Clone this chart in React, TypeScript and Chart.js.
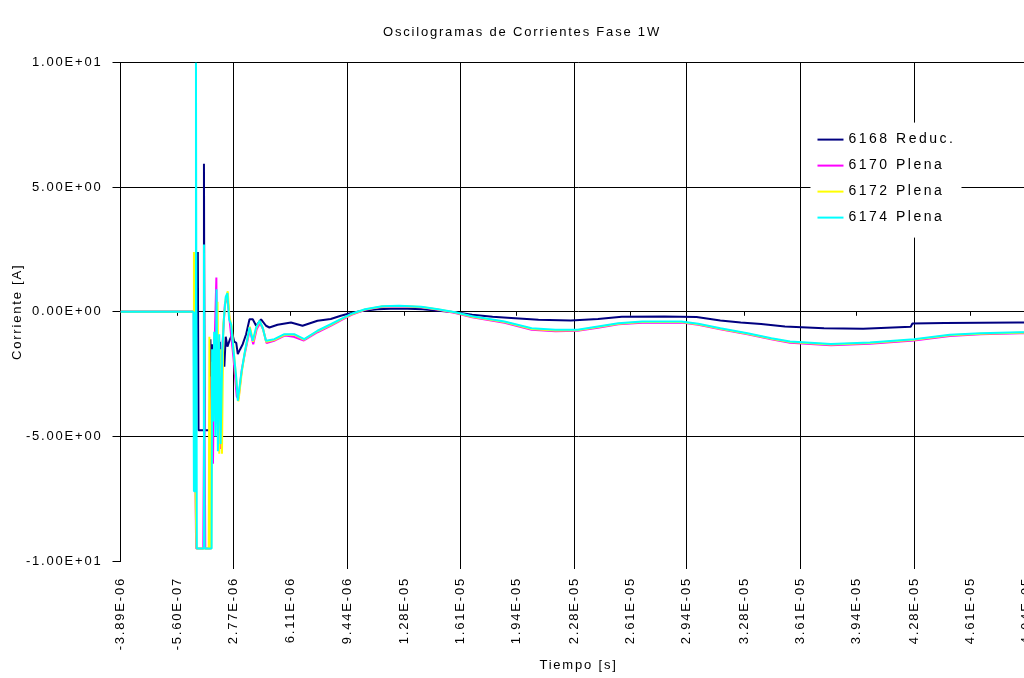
import React, { useEffect, useRef } from 'react';
import { Chart, registerables } from 'chart.js';

Chart.register(...registerables);

const TITLE = 'Oscilogramas de Corrientes Fase 1W';
const X_TITLE = 'Tiempo [s]';
const Y_TITLE = 'Corriente [A]';

const X_TICK_LABELS = [
  '-3.89E-06', '-5.60E-07', '2.77E-06', '6.11E-06', '9.44E-06', '1.28E-05',
  '1.61E-05', '1.94E-05', '2.28E-05', '2.61E-05', '2.94E-05', '3.28E-05',
  '3.61E-05', '3.94E-05', '4.28E-05', '4.61E-05', '4.94E-05',
];
const X_MAX_S = 5.0e-5;
const Y_TICK_LABELS = ['-1.00E+01', '-5.00E+00', '0.00E+00', '5.00E+00', '1.00E+01'];

const SERIES_NAMES = ['6168 Reduc.', '6170 Plena', '6172 Plena', '6174 Plena'];
const SERIES_COLORS = ['#000080', '#FF00FF', '#FFFF00', '#00FFFF'];

// [time in microseconds, current in A]
const S6168: [number, number][] = [
  [-3.89, 0], [0.62, 0], [0.66, 2.4], [0.70, -4.75], [0.98, -4.75], [1.02, 5.94], [1.06, -4.75],
  [1.36, -4.75], [1.40, -1.1], [1.46, -2.9], [1.52, -1.3], [1.60, -2.3], [1.66, -1.8], [1.72, -3.0],
  [1.80, -1.6], [1.88, -2.4], [1.96, -1.2], [2.05, -2.8], [2.14, -1.6], [2.22, -2.2], [2.30, -1.0],
  [2.40, -1.4], [2.55, -1.1], [2.70, -0.9], [2.80, -1.2], [2.92, -1.25], [3.01, -1.7], [3.15, -1.5],
  [3.30, -1.3], [3.50, -0.9], [3.70, -0.3], [3.89, -0.3], [4.09, -0.56], [4.38, -0.3], [4.67, -0.56],
  [4.87, -0.63], [5.35, -0.52], [6.14, -0.43], [6.82, -0.56], [7.70, -0.36], [8.48, -0.29],
  [9.07, -0.16], [9.56, -0.07], [10.2, 0.02], [11.2, 0.1], [12.0, 0.12], [13.0, 0.12], [13.9, 0.1],
  [14.8, 0.04], [15.8, -0.02], [16.8, -0.12], [18.0, -0.2], [19.1, -0.25], [20.7, -0.32],
  [22.6, -0.35], [24.2, -0.29], [25.6, -0.2], [28.1, -0.19], [30.0, -0.21], [31.4, -0.35],
  [32.6, -0.43], [33.8, -0.49], [35.2, -0.59], [37.5, -0.66], [39.8, -0.68], [42.6, -0.6],
  [42.7, -0.47], [44.6, -0.45], [48.9, -0.43], [50.0, -0.43],
];

const S6170: [number, number][] = [
  [-3.89, 0], [0.42, 0], [0.46, -7.0], [0.52, -7.0], [0.56, -9.5], [0.98, -9.5], [1.04, -3.0],
  [1.10, -9.5], [1.40, -9.5], [1.46, -2.6], [1.55, -6.1], [1.62, -2.0], [1.75, 1.38], [1.82, -4.5],
  [1.90, -1.0], [2.00, -5.5], [2.12, -1.2], [2.25, 0.3], [2.40, 0.6], [2.55, -0.5], [2.75, -1.8],
  [2.95, -3.4], [3.05, -3.5], [3.25, -2.3], [3.45, -1.6], [3.72, -0.7], [3.92, -1.3], [4.12, -0.7],
  [4.32, -0.45], [4.50, -0.7], [4.70, -1.25], [5.2, -1.15], [5.8, -0.95], [6.3, -1.0], [6.9, -1.15],
  [7.7, -0.82], [8.5, -0.55], [9.1, -0.33], [9.7, -0.12], [10.5, 0.08], [11.5, 0.2], [12.5, 0.22],
  [13.8, 0.18], [14.8, 0.08], [15.8, -0.05], [16.8, -0.22], [18.7, -0.44], [20.3, -0.72],
  [21.7, -0.78], [23.0, -0.76], [24.2, -0.64], [25.4, -0.5], [26.8, -0.44], [29.1, -0.43],
  [30.1, -0.52], [31.4, -0.7], [33.0, -0.9], [34.4, -1.1], [35.5, -1.24], [37.9, -1.34],
  [40.2, -1.28], [42.8, -1.15], [44.9, -0.97], [46.7, -0.9], [49.0, -0.86], [50.0, -0.86],
];

const S6172: [number, number][] = [
  [-3.89, 0], [0.40, 0], [0.43, 2.4], [0.48, 1.2], [0.52, -7.2], [0.58, -9.5], [1.30, -9.5],
  [1.34, -1.0], [1.40, -9.5], [1.45, -9.5], [1.50, -2.0], [1.58, -4.0], [1.66, -1.0], [1.74, -3.5],
  [1.82, 0.4], [1.92, -5.7], [2.00, -1.5], [2.08, -5.7], [2.16, -0.5], [2.30, 0.5], [2.42, 0.82],
  [2.52, -0.2], [2.65, -0.6], [2.80, -1.8], [2.95, -3.0], [3.05, -3.6], [3.25, -2.4], [3.42, -1.65],
  [3.72, -0.6], [3.92, -1.2], [4.1, -0.65], [4.3, -0.38], [4.48, -0.65], [4.68, -1.2], [5.2, -1.12],
  [5.8, -0.92], [6.3, -0.92], [6.9, -1.12], [7.7, -0.78], [8.5, -0.52], [9.1, -0.3], [9.7, -0.1],
  [10.5, 0.09], [11.5, 0.21], [12.5, 0.23], [13.8, 0.19], [14.8, 0.09], [15.8, -0.03], [16.8, -0.2],
  [18.7, -0.41], [20.3, -0.69], [21.7, -0.75], [23.0, -0.74], [24.2, -0.61], [25.4, -0.48],
  [26.8, -0.41], [29.1, -0.41], [30.1, -0.5], [31.4, -0.68], [33.0, -0.88], [34.4, -1.08],
  [35.5, -1.21], [37.9, -1.31], [40.2, -1.25], [42.8, -1.12], [44.9, -0.94], [46.7, -0.88],
  [49.0, -0.84], [50.0, -0.84],
];

const S6174: [number, number][] = [
  [-3.89, 0], [0.40, 0], [0.43, -7.2], [0.50, -7.2], [0.55, 10], [0.60, -9.5], [0.98, -9.5],
  [1.02, 2.7], [1.06, -9.5], [1.47, -9.5], [1.50, -1.5], [1.56, -4.4], [1.62, -0.8], [1.70, -5.0],
  [1.76, 0.9], [1.84, -5.6], [1.92, -0.9], [2.00, -5.3], [2.10, -1.6], [2.20, -0.2], [2.30, 0.6],
  [2.40, 0.75], [2.50, -0.3], [2.62, -0.5], [2.75, -1.5], [2.92, -2.64], [3.01, -3.57], [3.21, -2.5],
  [3.40, -1.7], [3.70, -0.63], [3.89, -1.16], [4.09, -0.63], [4.29, -0.36], [4.47, -0.63],
  [4.67, -1.16], [5.16, -1.1], [5.75, -0.9], [6.33, -0.9], [6.92, -1.1], [7.70, -0.76], [8.48, -0.5],
  [9.07, -0.29], [9.66, -0.09], [10.5, 0.1], [11.5, 0.22], [12.5, 0.24], [13.8, 0.2], [14.8, 0.1],
  [15.8, -0.02], [16.8, -0.18], [18.7, -0.39], [20.3, -0.66], [21.7, -0.72], [23.0, -0.72],
  [24.2, -0.59], [25.4, -0.46], [26.8, -0.39], [29.1, -0.39], [30.1, -0.48], [31.4, -0.66],
  [33.0, -0.86], [34.4, -1.06], [35.5, -1.19], [37.9, -1.29], [40.2, -1.23], [42.8, -1.1],
  [44.9, -0.92], [46.7, -0.86], [49.0, -0.82], [50.0, -0.82],
];

const SERIES_DATA = [S6168, S6170, S6172, S6174];

const FONT_FAMILY = '"Liberation Sans", Arial, sans-serif';
const LETTER_SPACING = '1.8px';

const X_TICK_VALUES = X_TICK_LABELS.map((l) => parseFloat(l) * 1e6);
const Y_TICK_VALUES = Y_TICK_LABELS.map((l) => parseFloat(l));

export default function App() {
  const ref = useRef<HTMLCanvasElement | null>(null);

  useEffect(() => {
    if (!ref.current) return;
    const setSpacing = (c: any) => {
      c.ctx.letterSpacing = LETTER_SPACING;
    };
    const spacingPlugin = {
      id: 'spacing',
      afterInit: setSpacing,
      beforeUpdate: setSpacing,
      beforeDraw: setSpacing,
    };
    const zeroTicksPlugin = {
      id: 'zeroTicks',
      beforeDatasetsDraw(chart: any) {
        const xs = chart.scales.x;
        const ys = chart.scales.y;
        const y0 = ys.getPixelForValue(0);
        const ctx = chart.ctx;
        ctx.save();
        ctx.strokeStyle = '#000';
        ctx.lineWidth = 1;
        X_TICK_VALUES.forEach((v, i) => {
          if (i % 2 === 1) {
            const px = Math.round(xs.getPixelForValue(v)) + 0.5;
            ctx.beginPath();
            ctx.moveTo(px, y0);
            ctx.lineTo(px, y0 + 4);
            ctx.stroke();
          }
        });
        ctx.restore();
      },
    };
    const legendPlugin = {
      id: 'boxLegend',
      afterDraw(chart: any) {
        const ctx = chart.ctx;
        const ca = chart.chartArea;
        const left = ca.right - 226;
        const top = ca.top + 60;
        ctx.save();
        ctx.fillStyle = '#fff';
        ctx.fillRect(left, top, 151, 115);
        ctx.font = '14px ' + FONT_FAMILY;
        ctx.letterSpacing = '2.5px';
        ctx.textBaseline = 'middle';
        ctx.textAlign = 'left';
        SERIES_NAMES.forEach((name, i) => {
          const y = top + 17 + i * 26;
          ctx.strokeStyle = SERIES_COLORS[i];
          ctx.lineWidth = 2;
          ctx.beginPath();
          ctx.moveTo(left + 7, y);
          ctx.lineTo(left + 33, y);
          ctx.stroke();
          ctx.fillStyle = '#000';
          ctx.fillText(name, left + 38, y);
        });
        ctx.restore();
      },
    };

    const font = { family: FONT_FAMILY, size: 13, weight: 'normal' as const };
    const transparent = 'rgba(0,0,0,0)';

    const chart = new Chart(ref.current, {
      type: 'line',
      data: {
        datasets: SERIES_DATA.map((s, i) => ({
          label: SERIES_NAMES[i],
          data: s.map(([t, v]) => ({ x: t, y: v })),
          borderColor: SERIES_COLORS[i],
          backgroundColor: SERIES_COLORS[i],
          borderWidth: 2,
          pointRadius: 0,
          tension: 0,
          fill: false,
          borderJoinStyle: 'bevel' as const,
          order: 3 - i,
        })),
      },
      options: {
        animation: false,
        responsive: false,
        devicePixelRatio: 1,
        layout: { padding: { left: 4, right: 10, top: 0, bottom: 0 } },
        plugins: {
          legend: { display: false },
          tooltip: { enabled: false },
          title: {
            display: true,
            text: TITLE,
            color: '#000',
            font,
            padding: { top: 25, bottom: 22 },
          },
        },
        scales: {
          x: {
            type: 'linear',
            min: X_TICK_VALUES[0],
            max: X_MAX_S * 1e6,
            afterBuildTicks: (scale: any) => {
              scale.ticks = X_TICK_VALUES.map((v) => ({ value: v }));
            },
            afterFit: (scale: any) => {
              scale.height = 117;
            },
            ticks: {
              autoSkip: false,
              maxRotation: 90,
              minRotation: 90,
              padding: 8,
              color: '#000',
              font,
              callback: (_v: any, i: number) => X_TICK_LABELS[i],
            },
            grid: {
              color: (c: any) => (c.index > 0 && c.index % 2 === 0 ? '#000' : transparent),
              lineWidth: 1,
              tickLength: 8,
              drawTicks: true,
            },
            border: { display: false },
            title: {
              display: true,
              text: X_TITLE,
              color: '#000',
              font,
              padding: { top: 6, bottom: 5 },
            },
          },
          y: {
            type: 'linear',
            min: -10,
            max: 10,
            afterBuildTicks: (scale: any) => {
              scale.ticks = Y_TICK_VALUES.map((v) => ({ value: v }));
            },
            afterFit: (scale: any) => {
              scale.width = 116.5;
            },
            ticks: {
              padding: 10,
              color: '#000',
              font,
              callback: (_v: any, i: number) => Y_TICK_LABELS[i],
            },
            grid: {
              color: (c: any) => (c.tick && c.tick.value === -10 ? transparent : '#000'),
              tickColor: '#000',
              lineWidth: 1,
              tickLength: 8,
            },
            border: { display: true, color: '#000', width: 1 },
            title: {
              display: true,
              text: Y_TITLE,
              color: '#000',
              font,
              padding: { top: 6, bottom: 0 },
            },
          },
        },
      },
      plugins: [spacingPlugin, zeroTicksPlugin, legendPlugin],
    } as any);

    return () => chart.destroy();
  }, []);

  return (
    <div
      style={{
        position: 'absolute',
        left: 0,
        top: 0,
        width: 1024,
        height: 678,
        overflow: 'hidden',
        background: '#fff',
      }}
    >
      <canvas ref={ref} width={1050} height={678} style={{ display: 'block', width: 1050, height: 678 }} />
    </div>
  );
}
